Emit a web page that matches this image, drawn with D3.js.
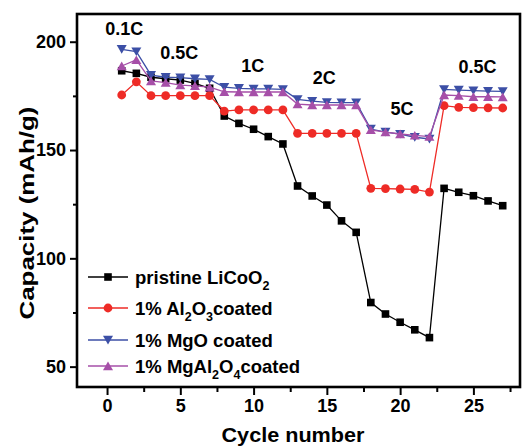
<!doctype html>
<html>
<head>
<meta charset="utf-8">
<script src="https://d3js.org/d3.v7.min.js"></script>
<style>
  body { margin: 0; background: #fff; }
  text { font-family: "Liberation Sans", Arial, sans-serif; font-weight: bold; fill: #000; }
</style>
</head>
<body>
<svg id="chart"></svg>
<script>
  // data
  var cycles = [1, 2, 3, 4, 5, 6, 7, 8, 9, 10, 11, 12, 13, 14, 15, 16, 17, 18, 19, 20, 21, 22, 23, 24, 25, 26, 27];
  var pristine = [186.6, 185.4, 183.6, 182.9, 182.3, 180.8, 178.5, 165.7, 162.3, 159.6, 156.2, 152.8, 133.4, 128.8, 124.6,
    117.3, 112.0, 79.6, 74.3, 70.5, 67.0, 63.4, 132.3, 130.5, 128.9, 126.5, 124.3];
  var al2o3 = [175.4, 181.5, 175.1, 175.1, 175.1, 175.1, 175.1, 168.0, 168.5, 168.5, 168.5, 168.5, 157.7, 157.7, 157.7,
    157.7, 157.7, 132.3, 132.2, 132.0, 131.8, 130.6, 170.5, 169.7, 169.6, 169.5, 169.4];
  var mgo = [196.5, 195.4, 184.6, 183.6, 183.4, 182.9, 182.6, 179.0, 178.5, 178.2, 178.2, 178.0, 173.4, 172.6, 172.0,
    171.9, 171.9, 159.7, 158.3, 157.3, 155.9, 155.1, 178.0, 177.7, 177.4, 177.2, 177.1];
  var mgal2o4 = [188.8, 191.6, 181.9, 181.1, 180.0, 179.6, 179.0, 176.9, 176.8, 176.8, 176.8, 176.8, 171.2, 170.8, 170.8,
    170.8, 170.8, 159.3, 158.3, 157.4, 156.8, 156.2, 175.4, 175.1, 174.6, 174.6, 174.5];

  var xTicks = [0, 5, 10, 15, 20, 25];
  var xMinor = [2.5, 7.5, 12.5, 17.5, 22.5, 27.5];
  var yTicks = [50, 100, 150, 200];
  var yMinor = [75, 125, 175];

  // rate labels: text, cycle, capacity
  var rateLabels = [
    ["0.1C", 1.18, 203.1],
    ["0.5C", 4.93, 191.9],
    ["1C", 9.94, 186.2],
    ["2C", 14.82, 180.5],
    ["5C", 20.13, 166.2],
    ["0.5C", 25.28, 185.4]
  ];

  var legendNames = [
    [["pristine LiCoO", 0], ["2", 1]],
    [["1% Al", 0], ["2", 1], ["O", 0], ["3", 1], ["coated", 0]],
    [["1% MgO coated", 0]],
    [["1% MgAl", 0], ["2", 1], ["O", 0], ["4", 1], ["coated", 0]]
  ];

  var series = [
    { values: pristine, color: "#000000", marker: "square" },
    { values: al2o3, color: "#ee2b26", marker: "circle" },
    { values: mgo, color: "#3c4fa6", marker: "down" },
    { values: mgal2o4, color: "#a64fa8", marker: "up" }
  ];

  var width = 522, height = 447;
  var plotLeft = 77, plotRight = 520, plotTop = 14, plotBottom = 387;

  var svg = d3.select("#chart").attr("width", width).attr("height", height);

  var x = d3.scaleLinear().domain([-2.05, 28.18]).range([plotLeft, plotRight]);
  var y = d3.scaleLinear().domain([40.6, 212.8]).range([plotBottom, plotTop]);

  function markerPath(type) {
    if (type == "square") return "M-3.8,-3.8H3.8V3.8H-3.8Z";
    if (type == "down") return "M-5,-4.2L5,-4.2L0,4.4Z";
    if (type == "up") return "M-5,4.2L5,4.2L0,-4.4Z";
    return null;
  }

  function drawMarker(g, type, color) {
    if (type == "circle") {
      g.append("circle").attr("r", 4.4).attr("fill", color);
    } else {
      g.append("path").attr("d", markerPath(type)).attr("fill", color);
    }
  }

  // axes
  svg.append("g")
    .attr("transform", "translate(0," + plotBottom + ")")
    .call(d3.axisBottom(x).tickValues(xTicks).tickSize(8).tickSizeOuter(0).tickPadding(4));
  svg.append("g")
    .attr("transform", "translate(0," + plotBottom + ")")
    .call(d3.axisBottom(x).tickValues(xMinor).tickSize(5).tickFormat("").tickSizeOuter(0));
  svg.append("g")
    .attr("transform", "translate(" + plotLeft + ",0)")
    .call(d3.axisLeft(y).tickValues(yTicks).tickSize(7).tickSizeOuter(0).tickPadding(4));
  svg.append("g")
    .attr("transform", "translate(" + plotLeft + ",0)")
    .call(d3.axisLeft(y).tickValues(yMinor).tickSize(4).tickFormat("").tickSizeOuter(0));

  svg.selectAll(".domain").remove();
  svg.selectAll(".tick line").attr("stroke", "#000").attr("stroke-width", 2);
  svg.selectAll(".tick text")
    .attr("fill", "#000")
    .style("font-size", "18px")
    .style("font-family", '"Liberation Sans", Arial, sans-serif')
    .style("font-weight", "bold");

  // frame
  svg.append("rect")
    .attr("x", plotLeft).attr("y", plotTop)
    .attr("width", plotRight - plotLeft).attr("height", plotBottom - plotTop)
    .attr("fill", "none").attr("stroke", "#000").attr("stroke-width", 2.6);

  // series
  var line = d3.line()
    .x(function(d, i) { return x(cycles[i]); })
    .y(function(d) { return y(d); });

  series.forEach(function(s) {
    svg.append("path")
      .datum(s.values)
      .attr("d", line)
      .attr("fill", "none")
      .attr("stroke", s.color)
      .attr("stroke-width", 1.3);

    s.values.forEach(function(v, i) {
      var g = svg.append("g").attr("transform", "translate(" + x(cycles[i]) + "," + y(v) + ")");
      drawMarker(g, s.marker, s.color);
    });
  });

  // rate labels
  svg.selectAll(".rate")
    .data(rateLabels)
    .enter()
    .append("text")
    .attr("class", "rate")
    .attr("x", function(d) { return x(d[1]); })
    .attr("y", function(d) { return y(d[2]); })
    .attr("text-anchor", "middle")
    .style("font-size", "18px")
    .text(function(d) { return d[0]; });

  // legend
  var legendRows = [277, 308, 340, 366];
  legendNames.forEach(function(parts, i) {
    var s = series[i];
    var g = svg.append("g").attr("transform", "translate(0," + legendRows[i] + ")");
    g.append("line")
      .attr("x1", 88).attr("x2", 128)
      .attr("stroke", s.color).attr("stroke-width", 1.3);
    var m = g.append("g").attr("transform", "translate(108,0)");
    drawMarker(m, s.marker, s.color);

    var t = g.append("text").attr("x", 135).attr("y", 6.5).style("font-size", "18.5px");
    var shifted = false;
    parts.forEach(function(p) {
      var sp = t.append("tspan").text(p[0]);
      if (p[1]) {
        sp.attr("dy", shifted ? 0 : 6).style("font-size", "12.5px");
        shifted = true;
      } else {
        sp.attr("dy", shifted ? -6 : 0);
        shifted = false;
      }
    });
  });

  // axis titles
  svg.append("text")
    .attr("x", 293).attr("y", 441.5)
    .attr("text-anchor", "middle")
    .attr("textLength", 143)
    .attr("lengthAdjust", "spacingAndGlyphs")
    .style("font-size", "21px")
    .text("Cycle number");

  svg.append("text")
    .attr("transform", "translate(33.5,213) rotate(-90)")
    .attr("text-anchor", "middle")
    .attr("textLength", 213)
    .attr("lengthAdjust", "spacingAndGlyphs")
    .style("font-size", "21px")
    .text("Capacity (mAh/g)");
</script>
</body>
</html>
